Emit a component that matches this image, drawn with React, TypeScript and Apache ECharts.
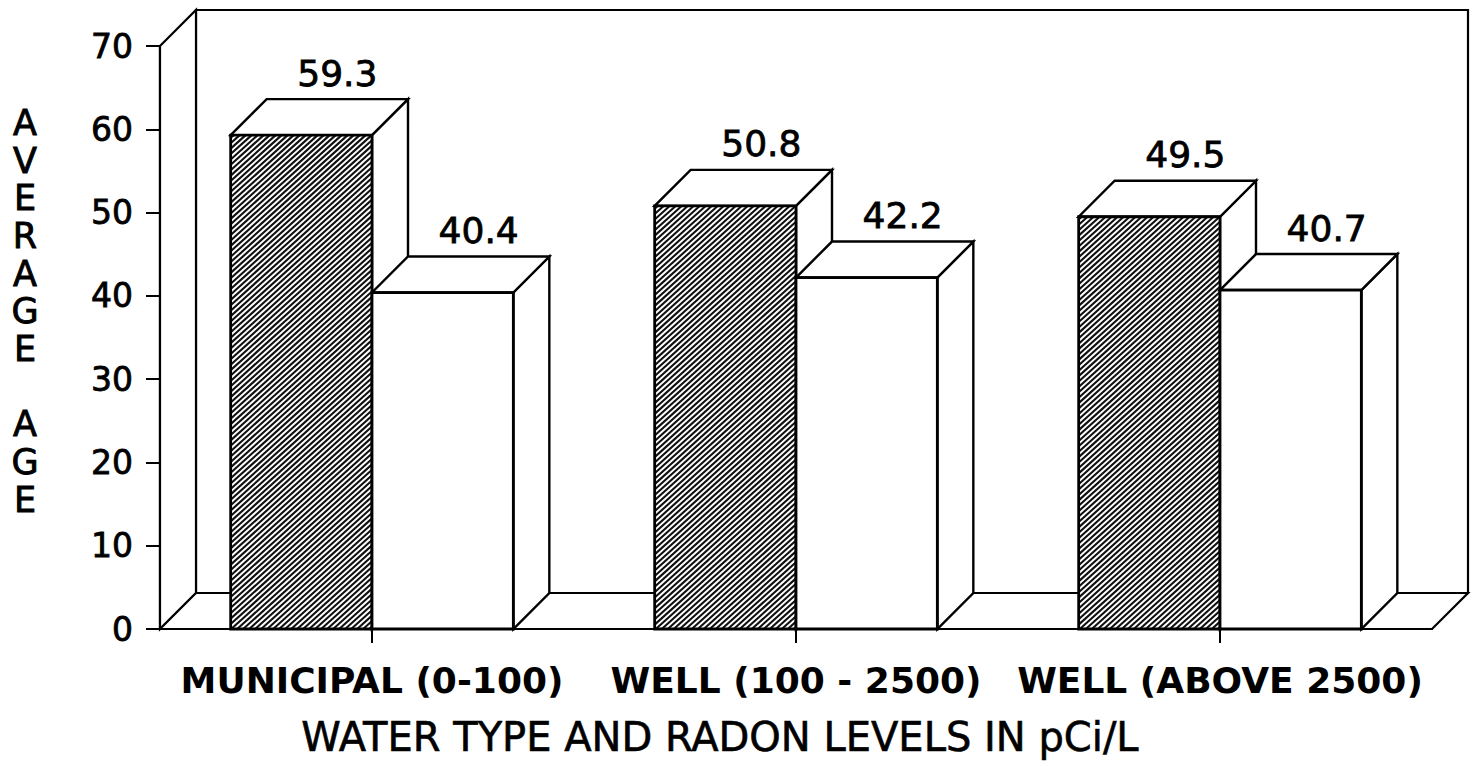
import React, { useEffect, useRef } from "react";
import * as echarts from "echarts";

// ---- data ----
const categories = ["MUNICIPAL (0-100)", "WELL (100 - 2500)", "WELL (ABOVE 2500)"];
const hatchedValues = [59.3, 50.8, 49.5];
const whiteValues = [40.4, 42.2, 40.7];
const yMin = 0;
const yMax = 70;
const yStep = 10;
const yAxisTitle = "AVERAGE AGE";
const xAxisTitle = "WATER TYPE AND RADON LEVELS IN pCi/L";

// ---- styling ----
const DX = 36;
const DY = -36;
const FONT = '"DejaVu Sans", Verdana, sans-serif';
const EDGE = 2.4;

function hatchPath(x0: number, y0: number, x1: number, y1: number): string {
  // lines going from lower-left to upper-right: y = c - m*x
  const m = Math.tan((42 * Math.PI) / 180);
  const hStep = 6;
  const vStep = hStep * m;
  const cStart = y0 + m * x0;
  const cEnd = y1 + m * x1;
  let d = "";
  for (let c = cStart + vStep / 2; c < cEnd; c += vStep) {
    const xa = (c - y1) / m;
    const xb = (c - y0) / m;
    const xl = Math.max(x0, xa);
    const xr = Math.min(x1, xb);
    if (xr - xl > 0.3) {
      d += `M${xl.toFixed(2)} ${(c - m * xl).toFixed(2)}L${xr.toFixed(2)} ${(c - m * xr).toFixed(2)}`;
    }
  }
  return d;
}

function barRenderer(kind: "hatched" | "white") {
  return (params: any, api: any) => {
    const ci = api.value(0);
    const v = api.value(1);
    const top = api.coord([ci, v]);
    const base = api.coord([ci, 0]);
    const band = api.size([1, 0])[0];
    const bw = band / 3;
    const cx = top[0];
    const x0 = kind === "hatched" ? cx - bw : cx;
    const x1 = x0 + bw;
    const yT = top[1];
    const yB = base[1];
    const faceStyle = { fill: "#fff", stroke: "#000", lineWidth: EDGE, lineJoin: "miter" };
    const children: any[] = [
      {
        type: "polygon",
        shape: { points: [[x1, yT], [x1 + DX, yT + DY], [x1 + DX, yB + DY], [x1, yB]] },
        style: faceStyle,
      },
      {
        type: "polygon",
        shape: { points: [[x0, yT], [x1, yT], [x1 + DX, yT + DY], [x0 + DX, yT + DY]] },
        style: faceStyle,
      },
      {
        type: "rect",
        shape: { x: x0, y: yT, width: bw, height: yB - yT },
        style: { fill: "#fff", stroke: null },
      },
    ];
    if (kind === "hatched") {
      children.push({
        type: "path",
        shape: { pathData: hatchPath(x0, yT, x1, yB) },
        style: { fill: null, stroke: "#111", lineWidth: 2.1 },
      });
    }
    children.push({
      type: "rect",
      shape: { x: x0, y: yT, width: bw, height: yB - yT },
      style: { fill: null, stroke: "#000", lineWidth: EDGE + 0.4 },
    });
    children.push({
      type: "text",
      style: {
        text: v.toFixed(1),
        x: (x0 + x1) / 2 + DX,
        y: yT + DY - 8,
        textAlign: "center",
        textVerticalAlign: "bottom",
        font: `36px ${FONT}`,
        fill: "#000",
        stroke: "#000",
        lineWidth: 0.8,
      },
    });
    return { type: "group", children };
  };
}

function frameRenderer(params: any) {
  const { x, y, width: w, height: h } = params.coordSys;
  const st = { fill: "#fff", stroke: "#000", lineWidth: 2.2 };
  return {
    type: "group",
    children: [
      { type: "rect", shape: { x: x + DX, y: y + DY, width: w, height: h }, style: st },
      {
        type: "polygon",
        shape: { points: [[x, y], [x + DX, y + DY], [x + DX, y + h + DY], [x, y + h]] },
        style: st,
      },
      {
        type: "polygon",
        shape: { points: [[x, y + h], [x + DX, y + h + DY], [x + w + DX, y + h + DY], [x + w, y + h]] },
        style: st,
      },
    ],
  };
}

export default function App() {
  const ref = useRef<HTMLDivElement>(null);
  useEffect(() => {
    if (!ref.current) return;
    const chart = echarts.init(ref.current, null, { renderer: "svg" });
    const verticalTitle = yAxisTitle.split("").join("\n");
    chart.setOption({
      animation: false,
      backgroundColor: "#fff",
      textStyle: { fontFamily: FONT },
      grid: { left: 160, top: 46, width: 1272, height: 583, containLabel: false },
      xAxis: {
        type: "category",
        data: categories,
        boundaryGap: true,
        axisLine: { show: true, lineStyle: { color: "#000", width: 2.2 } },
        axisTick: { show: true, alignWithLabel: true, length: 14, lineStyle: { color: "#000", width: 2 } },
        axisLabel: {
          interval: 0,
          hideOverlap: false,
          margin: 33,
          color: "#000",
          fontFamily: FONT,
          fontSize: 36,
          fontWeight: "bold",
        },
        splitLine: { show: false },
      },
      yAxis: {
        type: "value",
        min: yMin,
        max: yMax,
        interval: yStep,
        axisLine: { show: true, lineStyle: { color: "#000", width: 2.2 } },
        axisTick: { show: true, length: 14, inside: false, lineStyle: { color: "#000", width: 2 } },
        axisLabel: {
          margin: 27,
          color: "#000",
          fontFamily: FONT,
          fontSize: 33,
          textBorderColor: "#000",
          textBorderWidth: 0.8,
        },
        splitLine: { show: false },
      },
      graphic: [
        {
          type: "text",
          x: 25,
          y: 104,
          style: {
            text: verticalTitle,
            textAlign: "center",
            textVerticalAlign: "top",
            font: `35px ${FONT}`,
            lineHeight: 37.7,
            fill: "#000",
            stroke: "#000",
            lineWidth: 0.9,
          },
        },
        {
          type: "text",
          x: 720,
          y: 737,
          style: {
            text: xAxisTitle,
            textAlign: "center",
            textVerticalAlign: "middle",
            font: `40px ${FONT}`,
            fill: "#000",
            stroke: "#000",
            lineWidth: 0.6,
          },
        },
      ],
      series: [
        {
          type: "custom",
          name: "frame",
          silent: true,
          clip: false,
          renderItem: frameRenderer,
          data: [[0, 0]],
          encode: { x: 0, y: 1 },
          z: 1,
        },
        {
          type: "custom",
          name: "hatched",
          silent: true,
          clip: false,
          renderItem: barRenderer("hatched"),
          data: hatchedValues.map((v, i) => [i, v]),
          encode: { x: 0, y: 1 },
          z: 2,
        },
        {
          type: "custom",
          name: "white",
          silent: true,
          clip: false,
          renderItem: barRenderer("white"),
          data: whiteValues.map((v, i) => [i, v]),
          encode: { x: 0, y: 1 },
          z: 3,
        },
      ],
    });
    return () => chart.dispose();
  }, []);
  return (
    <div
      ref={ref}
      style={{ position: "fixed", left: 0, top: 0, width: 1473, height: 766, background: "#fff" }}
    />
  );
}
